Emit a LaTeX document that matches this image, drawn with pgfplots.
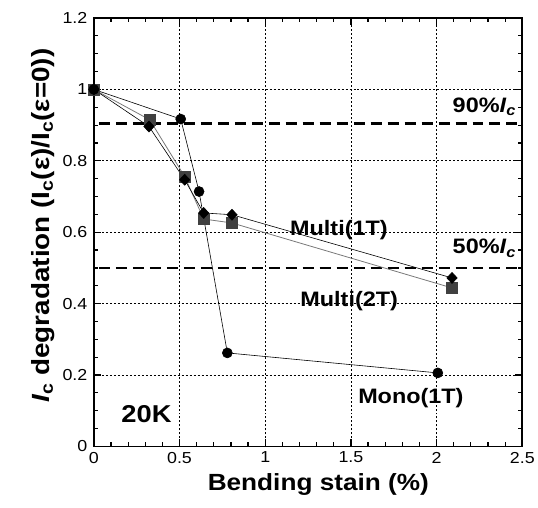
\documentclass[border=0pt]{standalone}
\usepackage{fontspec}
\setmainfont{Liberation Sans}[FakeStretch=1.12]
\usepackage{pgfplots}
\pgfplotsset{compat=1.18}
\definecolor{sqgray}{RGB}{64,64,64}
\definecolor{lngray}{RGB}{120,120,120}
\newcommand\tickfont{\fontsize{16}{16}\selectfont}
\newcommand\notefont{\bfseries\fontsize{21}{21}\selectfont}
\tikzset{note/.style={font=\notefont, inner sep=0pt}}
\begin{document}
\begin{tikzpicture}
\begin{axis}[
  scale only axis, width=429bp, height=429bp,
  xmin=0, xmax=2.5, ymin=0, ymax=1.2,
  xtick={0,0.5,1,1.5,2,2.5}, ytick={0,0.2,0.4,0.6,0.8,1,1.2},
  xticklabels={0,0.5,1,1.5,2,2.5},
  yticklabels={0,0.2,0.4,0.6,0.8,1,1.2},
  minor x tick num=4, minor y tick num=3,
  tick align=inside, major tick length=7bp, minor tick length=4bp,
  every tick/.style={black, line width=1.2pt},
  axis line style={line width=1.6pt},
  grid=major, grid style={black, dash pattern=on 2bp off 2bp, line width=0.7pt},
  tick label style={font=\tickfont},
  xticklabel style={yshift=-2bp},
  yticklabel style={xshift=-3bp},
  xlabel={Bending stain (\%)},
  ylabel={\textit{I}\textsubscript{c} degradation (I\textsubscript{c}(ε)/I\textsubscript{c}(ε=0))},
  xlabel style={font=\bfseries\fontsize{23.5}{24}\selectfont, at={(rel axis cs:0.524,-0.089)}, anchor=center},
  ylabel style={font=\bfseries\fontsize{25}{26}\selectfont, at={(rel axis cs:-0.119,0.515)}, anchor=center},
  clip=false,
]
% reference lines
\addplot[black, line width=2.4pt, dash pattern=on 11bp off 6bp] coordinates {(0.03,0.905) (2.5,0.905)};
\addplot[black, line width=2.4pt, dash pattern=on 11bp off 6bp] coordinates {(0.03,0.5) (2.5,0.5)};
% Multi(2T)
\addplot[lngray, line width=0.8pt, mark=square*, mark size=5.5bp, mark options={sqgray, fill=sqgray, solid}] coordinates {
 (0,1) (0.326,0.915) (0.53,0.756) (0.641,0.637) (0.806,0.626) (2.09,0.444)};
% Multi(1T)
\addplot[black, line width=0.6pt, mark=diamond*, mark size=5.5bp, mark options={black, fill=black, xscale=1.25}] coordinates {
 (0,1) (0.322,0.896) (0.53,0.747) (0.641,0.654) (0.806,0.649) (2.09,0.472)};
% Mono(1T)
\addplot[black, line width=0.6pt, mark=*, mark size=5bp, mark options={black, fill=black}] coordinates {
 (0,1) (0.507,0.917) (0.614,0.714) (0.779,0.262) (2.007,0.206)};
\node[note, anchor=east] at (axis cs:2.465,0.952) {90\%\textit{I}\textsubscript{\textit{c}}};
\node[note, anchor=east] at (axis cs:2.465,0.555) {50\%\textit{I}\textsubscript{\textit{c}}};
\node[note] at (axis cs:1.43,0.607) {Multi(1T)};
\node[note] at (axis cs:1.49,0.406) {Multi(2T)};
\node[note] at (axis cs:1.85,0.136) {Mono(1T)};
\node[note, font=\bfseries\fontsize{24.5}{25}\selectfont] at (axis cs:0.307,0.09) {20K};
% page extent
\path (rel axis cs:-0.219,-0.142) rectangle (rel axis cs:1.035,1.042);
\end{axis}
\end{tikzpicture}
\end{document}
